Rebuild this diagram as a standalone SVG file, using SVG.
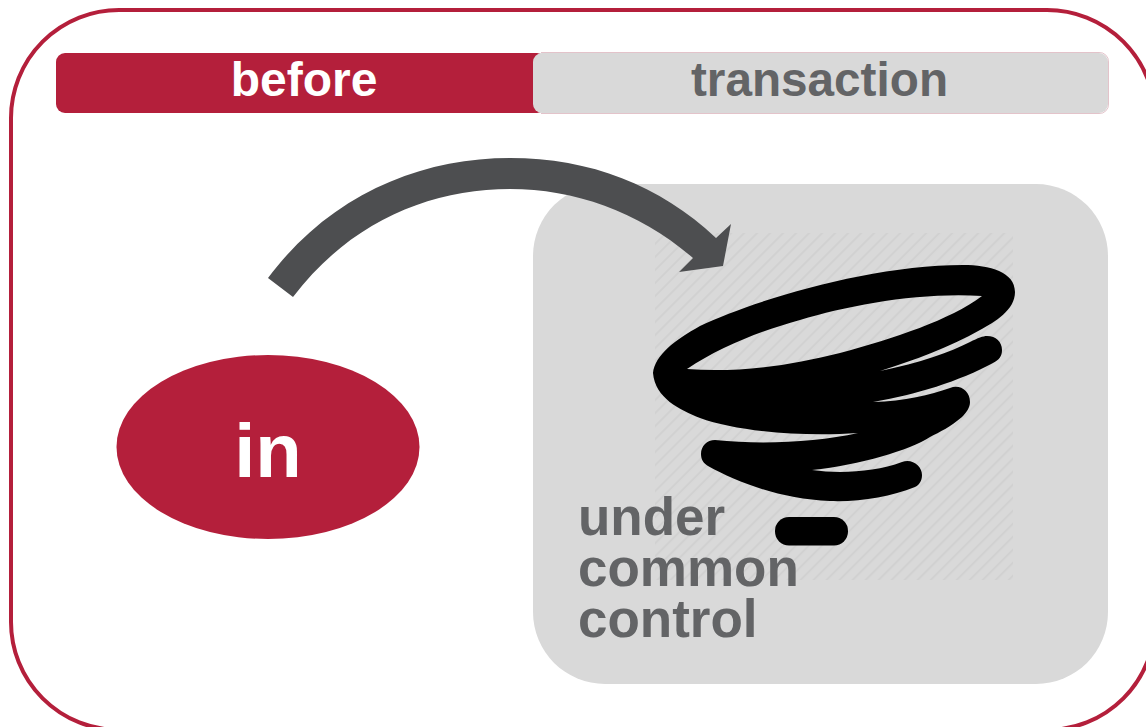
<svg xmlns="http://www.w3.org/2000/svg" width="1146" height="727" viewBox="0 0 1146 727">
<style>
text{font-family:"Liberation Sans",Arial,sans-serif;font-weight:bold}
.w{fill:#fff}.g{fill:#636466}
.red{fill:#b41f3b}.gr{fill:#d9d9d9}
</style>
<defs>
<pattern id="hatch" width="9.2" height="9.2" patternUnits="userSpaceOnUse" patternTransform="rotate(45)">
<rect x="0" y="0" width="2" height="9.2" fill="#d1d1d1"/>
</pattern>
</defs>
<rect x="0" y="0" width="1146" height="727" fill="#fff"/>
<g id="frame"><rect x="11" y="10" width="1144" height="720" rx="108" ry="108" fill="none" stroke="#b41f3b" stroke-width="4"/></g>
<g id="bar-before"><rect class="red" x="56" y="53" width="490" height="60" rx="9"/><text class="w" x="304" y="96" font-size="48" text-anchor="middle">before</text></g>
<g id="bar-transaction"><rect class="gr" x="533" y="53" width="575" height="60" rx="9"/><path d="M541,113.500 H1099 a9,9 0 0 0 9.500,-9.500 V62 a9,9 0 0 0 -9.500,-9.500 H541" fill="none" stroke="#e3c3ca" stroke-width="1"/><text class="g" x="819.500" y="96" font-size="47.700" text-anchor="middle">transaction</text></g>
<g id="node-in"><ellipse class="red" cx="268" cy="447" rx="151.500" ry="92"/><text class="w" x="268" y="477" font-size="76" text-anchor="middle">in</text></g>
<g id="node-control">
<rect class="gr" x="533" y="184" width="575" height="500" rx="72"/>
<rect x="655" y="233" width="358" height="347" fill="url(#hatch)"/>
<g id="tornado">
<path fill="#000" fill-rule="evenodd" d="M653,373 C655,355 675,340 700,326 C755,300 870,265 963,265 C990,265 1015,272 1015,292 C1015,310 995,322 980,330 C950,347 915,360 880,371 C920,363 950,352 970,342 C978,338 983,336 987,336 C996,336 1002,342 1002,350 C1002,356 999,360 993,363 C960,381 915,395 873,402 C905,401 930,395 950,388 C960,384 970,391 970,402 C970,408 966,413 962,417 C950,427 940,432 930,437 C910,450 860,465 812,470 C840,474 875,472 902,462 C912,458 922,466 922,475 C922,481 919,485 915,487 C890,497 860,502 830,501 C780,499 737,482 708,466 C703,463 701,459 701,454 C701,446 707,440 715,440 C763,445 817,442 858,433 C800,437 735,431 700,418 C680,410 655,398 653,373 Z M687,369 C720,347 760,331 800,320 C850,305 920,292 982,296 C950,320 895,338 840,353 C790,366 735,373 687,369 Z"/>
<rect x="775" y="517" width="73" height="28.500" rx="14" fill="#000"/>
</g>
<text class="g" font-size="53"><tspan x="578" y="535">under</tspan><tspan x="578" y="586">common</tspan><tspan x="578" y="637">control</tspan></text>
</g>
<g id="connectors"><path fill="#4d4e50" d="M268,278 C330,195 420,158 510,158 C590,158 660,185 716,238 L731,224 L723,266 L679,272 L693,258 C640,212 575,189 510,189 C430,189 350,222 293,297 Z"/></g>
</svg>
